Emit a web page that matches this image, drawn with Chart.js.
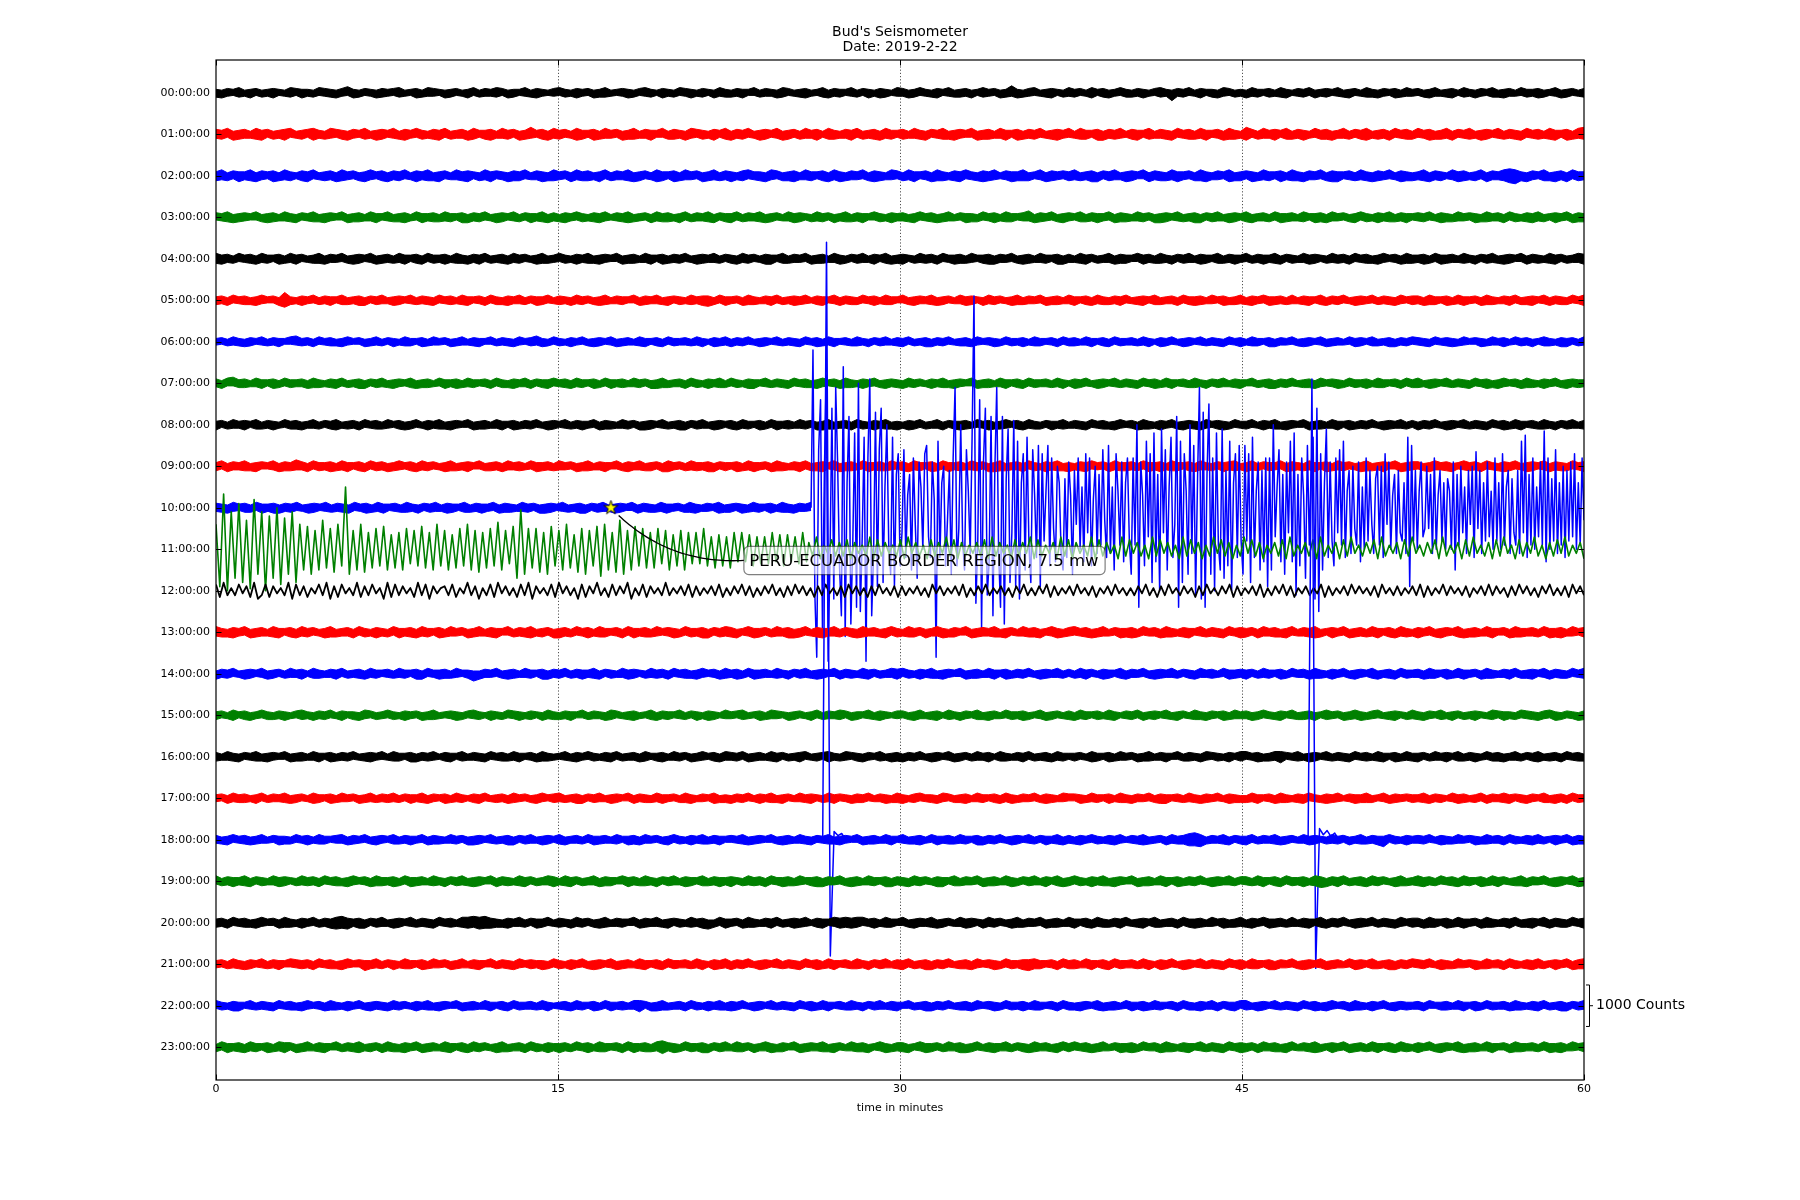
<!DOCTYPE html>
<html><head><meta charset="utf-8">
<script src="https://cdn.jsdelivr.net/npm/chart.js@4.4.1/dist/chart.umd.min.js"></script>
<style>html,body{margin:0;padding:0;background:#fff;overflow:hidden}#wrap{width:1800px;height:1200px;position:relative}</style>
</head><body><div id="wrap"><canvas id="c"></canvas></div>
<script>
// ================= DATA =================
const chartTitle = ["Bud's Seismometer", "Date: 2019-2-22"];
const xAxisTitle = "time in minutes";
const hourLabels = ["00:00:00","01:00:00","02:00:00","03:00:00","04:00:00","05:00:00","06:00:00","07:00:00",
  "08:00:00","09:00:00","10:00:00","11:00:00","12:00:00","13:00:00","14:00:00","15:00:00",
  "16:00:00","17:00:00","18:00:00","19:00:00","20:00:00","21:00:00","22:00:00","23:00:00"];
const minuteTicks = [0, 15, 30, 45, 60];
const countsPerRow = 1000;
const scaleBarCounts = 1000;
const scaleBarLabel = "1000 Counts";
const scaleBarRow = 22;
const eventLabel = "PERU-ECUADOR BORDER REGION, 7.5 mw";
const eventMinute = 17.32, eventRow = 10;
const eventLabelMinute = 23.39, eventLabelRow = 11.27;

// background noise: per 15 s window, "max then min" deviation digits (x noiseUnit counts)
const noiseUnit = [21,24,24,22,22,21,20,21,21,22,22,0,0,23,22,21,21,21,21,22,22,22,21,22];
const band00 = `45 36 54 43 65 34 46 53 35 44 56 43 34 65 53 46 44 35 63 54 45 36 54 73 46 35 53 44 36 55
44 53 65 34 43 56 35 64 54 43 36 45 53 34 46 63 35 54 44 65 53 36 45 43 64 35 56 44 33 54
63 45 34 56 44 53 36 45 65 34 43 54 46 35 53 64 45 33 56 44 35 63 54 46 34 55 43 36 64 45
35 54 46 43 63 35 54 44 36 65 53 34 45 56 34 43 65 36 54 45 43 64 35 53 46 34 56 45 33 64
54 36 45 63 44 35 56 43 64 35 45 54 36 43 65 44 53 36 45 84 46 35 54 63 34 45 56 43 35 64
45 53 34 66 43 55 36 44 63 45 35 54 46 34 53 65 44 39 54 45 63 34 56 43 45 36 64 53 35 44
36 64 45 43 55 34 65 46 33 54 45 63 36 44 55 43 64 35 46 53 34 65 45 36 54 43 56 35 64 44
53 35 46 64 34 45 56 33 65 44 36 54 43 65 35 46 54 34 63 45 44 56 35 43 64 36 45 53 34 55`;
const band01 = `54 45 63 36 45 54 34 65 46 53 35 44 56 63 34 45 53 66 44 35 64 53 45 36 54 43 65 34 46 55
43 64 35 56 44 63 45 34 55 46 63 35 44 54 36 65 43 45 56 34 64 45 53 36 45 74 43 55 36 64
45 53 34 66 45 43 56 35 64 44 53 36 45 65 34 54 46 43 63 35 55 44 36 64 53 45 34 56 43 65
36 54 45 63 34 46 55 43 64 36 45 53 35 64 44 56 33 65 45 34 54 46 63 35 44 55 36 64 45 43
55 34 64 45 36 53 44 65 35 46 54 43 63 36 45 55 34 64 46 43 56 35 54 45 63 34 45 56 44 63
34 65 45 43 56 36 54 45 64 33 55 46 43 65 34 54 45 36 63 44 55 35 64 46 43 54 36 65 45 34
76 53 35 64 44 56 43 65 35 54 46 34 63 45 55 36 44 64 35 53 45 66 34 45 54 36 63 44 55 35
63 44 56 35 45 64 36 53 44 65 34 46 55 43 64 35 54 45 36 63 44 55 34 65 46 43 56 35 64 75`;
const band02 = `45 64 35 53 46 44 65 36 54 43 56 35 64 45 33 55 46 63 34 45 54 36 65 44 53 35 46 64 43 55
36 54 45 63 34 56 44 65 35 46 53 34 64 45 56 43 35 64 46 53 44 36 55 45 63 34 54 46 35 65
44 53 36 64 45 55 34 46 63 35 54 44 65 36 45 53 34 66 45 43 56 35 64 44 53 36 45 64 35 54
46 34 55 63 44 45 36 64 53 35 45 56 34 64 45 43 55 36 64 46 35 54 44 63 35 56 45 34 64 53
35 64 46 43 54 36 65 45 34 55 46 63 44 35 56 45 64 33 54 46 45 65 35 43 64 36 55 44 53 45
64 35 44 56 36 53 45 64 34 46 55 43 63 36 54 45 35 64 46 44 53 35 65 46 34 54 43 66 35 45
53 46 35 64 45 43 56 34 65 45 36 54 44 63 35 56 46 43 54 35 64 45 36 55 44 63 34 56 45 35
44 65 36 54 45 33 64 46 55 34 45 63 36 54 44 65 77 68 45 36 54 43 65 35 46 54 36 63 45 44`;
const band03 = `53 44 65 36 45 54 43 63 35 46 55 34 64 45 36 53 44 65 35 46 54 43 63 36 45 55 34 64 46 43
64 35 45 56 34 63 46 44 55 35 64 45 43 56 36 54 45 63 34 46 55 43 64 35 53 46 44 65 36 54
35 56 44 63 45 34 55 46 64 33 54 45 66 35 44 53 36 64 45 55 34 46 63 35 54 44 65 36 53 45
46 63 35 54 44 65 36 45 53 34 64 46 55 43 35 64 45 53 36 44 65 35 54 46 43 63 45 34 56 44
54 35 46 63 44 55 36 45 64 34 53 46 45 35 63 44 56 34 65 45 43 54 74 36 55 44 63 35 46 54
43 65 35 54 46 44 63 36 55 45 34 64 45 53 36 46 55 43 64 35 44 56 36 53 45 64 34 46 55 43
65 36 44 54 35 63 46 45 54 34 65 43 46 55 36 64 44 53 35 46 63 45 34 56 44 65 35 54 46 43
54 45 63 34 56 45 35 64 44 53 46 35 65 44 54 36 63 45 34 55 46 64 35 43 56 44 63 36 55 45`;
const band04 = `65 46 54 35 63 44 55 36 64 45 43 56 35 64 46 53 34 45 65 36 54 44 63 35 46 55 43 64 36 45
54 35 64 46 43 55 36 63 45 44 56 34 65 45 36 54 46 63 35 44 55 36 64 45 53 34 46 65 35 44
63 45 34 56 44 65 35 46 54 43 63 36 45 55 34 64 46 43 56 35 54 45 63 34 46 55 44 64 35 53
45 36 64 45 53 34 56 46 43 65 35 54 44 63 36 45 55 34 64 46 35 53 45 64 34 56 43 65 36 45
56 43 35 64 45 54 36 63 44 46 55 35 64 43 45 56 36 54 44 63 35 46 55 34 64 45 43 56 36 54
34 65 46 53 35 44 64 36 55 45 43 63 46 54 35 65 44 36 53 45 64 34 56 45 43 65 35 54 46 44
63 35 54 46 44 65 36 53 45 34 64 46 55 43 35 64 45 54 36 63 44 55 35 46 64 43 54 36 65 45
44 56 35 63 46 45 54 34 65 44 36 53 45 64 35 46 55 43 63 36 54 45 34 65 46 53 35 44 64 56`;
const band05 = `45 54 36 63 44 55 35 46 64 43 53 36 98 45 34 56 44 63 35 54 46 43 65 35 44 56 36 53 45 64
34 46 55 43 64 35 54 45 36 63 44 55 34 65 46 43 54 36 63 45 35 56 44 64 35 53 46 45 63 34
55 44 36 64 45 53 35 46 65 34 54 45 43 63 36 55 44 64 35 46 53 45 34 65 44 56 57 35 63 46
44 53 36 65 45 34 54 46 63 35 44 56 45 64 33 55 46 43 64 36 54 45 35 63 44 56 34 65 45 43
63 35 46 54 44 65 36 45 53 34 64 46 55 43 36 64 45 53 34 46 65 35 54 44 63 36 45 55 34 64
46 43 55 36 64 45 35 54 46 63 34 45 56 43 65 35 44 54 36 63 45 46 55 34 64 43 56 35 45 64
35 56 44 63 46 45 54 35 64 34 55 46 43 65 36 54 45 63 34 46 55 44 63 35 54 45 36 64 43 55
54 36 65 45 43 56 35 64 46 44 53 36 65 45 34 54 46 63 35 45 56 43 64 36 54 45 35 63 44 66`;
const band06 = `44 53 35 64 45 36 55 43 64 35 54 46 43 63 74 45 54 36 63 44 55 35 46 64 43 53 36 45 64 35
53 46 34 65 45 43 56 35 64 44 53 36 45 64 34 55 46 43 63 35 54 45 36 64 43 55 74 46 35 63
45 34 56 44 63 35 46 55 43 64 36 45 54 34 65 46 43 55 36 63 45 44 54 35 64 46 33 56 45 64
36 54 45 63 34 46 55 43 64 35 54 45 36 63 44 56 35 64 46 43 54 35 65 44 36 53 45 64 34 55
46 63 35 44 56 36 54 45 63 34 45 55 36 64 43 54 46 35 63 45 44 56 34 65 45 43 54 36 63 45
55 34 64 46 43 55 36 63 45 44 54 35 64 46 33 56 45 63 34 46 55 43 64 35 54 45 36 63 44 56
34 65 45 43 56 36 54 44 63 35 46 55 43 64 36 45 54 34 63 46 55 43 65 35 44 56 36 54 45 63
54 45 36 63 44 55 46 35 64 43 53 46 35 64 44 56 34 63 45 54 36 43 65 45 34 56 46 53 35 64`;
const band07 = `54 36 63 73 45 55 34 64 46 43 56 35 63 45 44 54 36 65 45 34 55 46 63 35 44 56 36 53 45 64
35 46 54 43 65 36 45 55 34 63 46 44 56 35 64 45 43 54 36 63 45 35 56 44 64 36 53 45 46 63
44 55 36 64 45 43 56 35 63 46 44 55 34 64 45 53 36 46 65 35 44 54 36 63 45 34 56 44 65 35
63 45 34 56 46 43 64 35 54 45 36 63 44 55 35 46 64 43 54 36 65 45 34 56 44 63 35 46 54 45
36 64 45 53 34 56 44 65 35 46 54 43 63 36 45 55 34 64 46 43 55 36 63 45 44 54 35 64 46 33
56 45 63 34 46 55 43 64 35 54 45 36 63 44 56 35 64 46 43 54 35 65 44 36 53 45 64 34 55 46
43 63 35 44 56 36 54 45 63 34 45 55 36 64 43 54 46 35 63 45 44 56 34 65 45 43 54 36 63 45
65 34 46 55 43 64 35 54 45 36 63 44 56 35 46 64 43 54 36 65 45 34 56 44 63 35 46 54 45 44`;
const band08 = `46 53 35 64 44 56 43 65 35 54 46 34 63 45 55 36 44 64 35 53 45 66 34 45 54 36 63 44 55 35
64 43 55 36 45 63 34 56 44 65 35 46 54 43 63 36 45 55 34 64 46 43 56 35 54 45 63 34 46 55
43 64 35 54 46 44 63 36 55 45 34 64 45 53 36 46 55 43 64 35 44 56 36 53 45 64 34 46 55 43
55 36 64 45 43 56 35 63 46 44 55 34 64 45 53 36 46 65 35 44 54 36 63 45 34 56 44 65 35 46
34 56 45 63 35 44 64 36 53 45 46 55 34 63 44 56 35 45 64 43 55 36 64 45 35 53 46 44 65 34
54 45 36 63 44 55 35 46 64 43 54 36 65 45 34 56 44 63 35 46 54 45 36 64 43 55 46 35 63 44
45 63 34 56 44 65 35 46 54 43 63 36 45 55 34 64 46 43 56 35 54 45 63 34 46 55 44 64 35 53
36 54 45 63 34 46 55 43 64 35 54 45 36 63 44 56 35 64 46 43 54 35 65 44 36 53 45 64 34 55`;
const band09 = `45 63 36 54 44 65 35 46 53 43 64 36 55 45 74 54 36 63 45 44 56 35 64 46 43 55 36 63 45 54
36 45 64 43 55 36 64 45 53 34 46 65 35 44 56 43 63 35 45 54 36 64 44 55 34 63 46 45 54 35
64 44 53 36 45 65 34 54 46 43 63 35 56 44 64 35 45 53 36 66 44 53 35 64 45 44 56 36 53 45
43 56 35 64 46 44 53 36 65 45 34 54 46 63 35 45 56 43 64 36 45 55 34 63 46 44 55 35 64 43
55 36 64 45 43 56 35 63 46 44 55 34 64 45 53 36 46 65 35 44 54 36 63 45 34 56 44 65 35 46
34 55 46 63 44 53 36 64 45 45 54 35 63 46 44 56 34 65 45 43 55 36 64 44 35 53 46 54 65 34
46 64 35 53 45 44 63 36 55 44 35 64 46 43 56 35 64 45 53 34 46 65 35 44 56 43 63 36 45 54
53 35 46 64 44 55 36 43 64 45 54 36 63 44 35 56 45 63 34 46 55 43 64 36 54 45 35 63 44 56`;
const band10 = `54 45 36 64 43 55 35 63 46 44 56 36 54 45 63 34 46 55 43 64 35 54 45 36 63 44 56 35 64 46
43 54 35 65 44 36 53 45 64 34 56 45 43 65 35 54 46 44 63 36 55 45 34 64 45 53 36 46 55 43
64 35 44 56 36 53 45 64 34 46 55 43 63 36 54 45 35 64 46 44 53 35 65 46 34 54 43 66 35 45
53 46 35 64 45 43 56 34 65 45 36 54 44 63`;
const band13 = `64 45 35 56 44 63 36 45 54 34 65 46 43 55 36 64 45 53 34 46 65 35 44 54 36 63 45 34 56 44
35 63 46 44 55 36 64 45 43 56 35 64 44 53 36 45 64 34 55 46 43 63 35 54 45 66 34 45 53 36
46 54 35 63 44 56 34 65 45 43 54 36 63 46 44 55 35 64 43 54 46 35 63 45 44 56 36 53 45 64
55 36 43 64 46 45 53 35 64 44 56 36 45 63 34 55 46 44 64 35 53 45 36 65 44 54 35 46 63 45
34 65 45 53 36 44 64 46 35 55 43 63 36 45 54 44 65 35 46 53 34 64 45 55 36 43 64 46 35 54
63 44 55 36 45 64 34 53 46 45 56 35 63 44 54 36 65 45 34 55 46 43 64 35 54 45 36 63 44 56
45 53 36 64 44 55 35 46 63 34 54 45 66 35 43 56 44 63 36 45 54 35 64 46 43 55 36 64 45 34
56 44 63 35 46 54 43 65 36 45 55 34 64 46 43 53 36 65 45 44 54 35 63 46 45 56 34 64 43 55`;
const band14 = `36 54 45 63 34 46 55 43 64 36 45 53 35 64 44 56 33 65 45 34 54 46 63 35 44 55 36 64 45 43
54 35 64 45 43 56 36 63 44 46 55 35 64 43 45 38 36 54 44 63 35 46 55 34 64 45 43 56 36 54
45 63 35 54 46 44 65 36 53 45 34 64 46 55 43 35 64 45 54 36 63 44 55 35 46 64 43 54 36 65
44 56 35 63 46 45 54 34 65 44 36 53 45 64 35 46 55 43 63 36 54 45 34 65 46 53 35 44 64 56
63 45 34 56 44 65 35 46 54 43 63 36 45 55 34 64 46 43 56 35 54 45 63 34 46 55 44 64 35 53
35 64 46 53 34 56 45 43 65 36 54 44 63 35 46 55 44 64 35 53 45 36 64 44 55 34 63 46 45 54
46 53 35 64 45 43 56 35 63 44 54 36 65 45 34 56 44 63 35 46 54 43 65 36 44 55 36 63 45 44
54 36 65 45 43 56 35 64 46 44 53 36 65 45 34 54 46 63 35 45 56 43 64 36 54 45 35 63 44 65`;
const band15 = `45 53 34 66 43 55 36 44 63 45 35 54 46 34 53 65 44 36 54 45 63 34 56 43 45 36 64 53 35 44
63 45 34 56 44 53 36 45 65 34 43 54 46 35 53 64 45 33 56 44 35 63 54 46 34 55 43 36 64 45
35 54 46 43 63 35 54 44 36 65 53 34 45 56 34 43 65 36 54 45 43 64 35 53 46 34 56 45 33 64
44 53 65 34 43 56 35 64 54 43 36 45 53 34 46 63 35 54 44 65 53 36 45 43 64 35 56 44 33 54
53 35 46 64 34 45 56 33 65 44 36 54 43 65 35 46 54 34 63 45 44 56 35 43 64 36 45 53 34 55
36 64 45 43 55 34 65 46 33 54 45 63 36 44 55 43 64 35 46 53 34 65 45 36 54 43 56 35 64 44
54 36 45 63 44 35 56 43 64 35 45 54 36 43 65 44 53 36 45 64 46 35 54 63 34 45 56 43 35 64
45 36 54 43 65 34 46 53 35 44 56 43 34 65 53 46 44 35 63 54 45 36 54 63 46 35 53 44 36 55`;
const band16 = `55 34 64 45 36 53 44 65 35 46 54 43 63 36 45 55 34 64 46 43 56 35 54 45 63 34 45 56 44 63
34 65 45 43 56 36 54 45 64 33 55 46 43 65 34 54 45 36 63 44 55 35 64 46 43 54 36 65 45 34
43 64 35 56 44 63 45 34 55 46 63 35 44 54 36 65 43 45 56 34 64 45 53 36 45 64 43 55 36 64
54 45 63 36 45 54 34 65 46 53 35 44 56 63 34 45 53 66 44 35 64 53 45 36 54 43 65 34 46 55
36 54 45 63 34 46 55 43 64 36 45 53 35 64 44 56 33 65 45 34 54 46 63 35 44 55 36 64 45 43
45 53 34 66 45 43 56 35 64 44 53 36 45 65 34 54 46 43 63 35 55 44 36 64 53 45 34 56 43 65
63 44 56 35 45 64 67 53 44 65 34 46 55 43 64 35 54 45 36 63 44 55 34 65 46 43 56 35 64 45
46 53 35 64 44 56 43 65 35 54 46 34 63 45 55 36 44 64 35 53 45 66 34 45 54 36 63 44 55 35`;
const band17 = `44 53 36 64 45 55 34 46 63 35 54 44 65 36 45 53 34 66 45 43 56 35 64 44 53 36 45 64 35 54
45 64 35 53 46 44 65 36 54 43 56 35 64 45 33 55 46 63 34 45 54 36 65 44 53 35 46 64 43 55
64 35 44 56 36 53 45 64 34 46 55 43 63 36 54 45 35 64 46 44 53 35 65 46 34 54 43 66 35 45
36 54 45 63 34 56 44 65 35 46 53 34 64 45 56 43 35 64 46 53 44 36 55 45 63 34 54 46 35 65
46 34 55 63 44 45 36 64 53 35 45 56 34 64 45 43 55 36 64 46 35 54 44 63 35 56 45 34 64 53
53 46 35 64 45 43 56 34 65 45 36 54 44 63 35 56 46 43 54 35 64 45 36 55 44 63 34 56 45 35
35 64 46 43 54 36 65 45 34 55 46 63 44 35 56 45 64 33 54 46 45 65 35 43 64 36 55 44 53 45
44 65 36 54 45 33 64 46 55 34 45 63 36 54 44 65 46 53 45 36 54 43 65 35 46 54 36 63 45 44`;
const band18 = `54 35 46 63 44 55 36 45 64 34 53 46 45 35 63 44 56 34 65 45 43 54 64 36 55 44 63 35 46 54
43 65 35 54 46 44 63 36 55 45 34 64 45 53 36 46 55 43 64 35 44 56 36 53 45 64 34 46 55 43
65 36 44 54 35 63 46 45 54 34 65 43 46 55 36 64 44 53 35 46 63 45 34 56 44 65 35 54 46 43
53 44 65 36 45 54 43 63 35 46 55 34 64 45 36 53 44 65 35 46 54 43 63 36 45 55 34 64 46 43
64 35 45 56 34 63 46 44 55 35 64 45 43 56 36 54 45 63 34 46 55 43 64 35 53 46 44 65 36 54
35 56 44 63 45 34 55 46 64 33 54 45 66 35 44 53 36 64 45 55 77 87 68 35 54 44 65 36 53 45
46 63 35 54 44 65 36 45 53 34 64 46 55 43 35 64 45 53 36 44 65 35 54 46 48 63 45 34 56 44
54 45 63 34 56 45 35 64 44 53 46 35 65 44 54 36 63 45 34 55 46 64 35 43 56 44 63 36 55 45`;
const band19 = `63 35 54 46 44 65 36 53 45 34 64 46 55 43 35 64 45 54 36 63 44 55 35 46 64 43 54 36 65 45
44 56 35 63 46 45 54 34 65 44 36 53 45 64 35 46 55 43 63 36 54 45 34 65 46 53 35 44 64 56
34 65 46 53 35 44 64 36 55 45 43 63 46 54 35 65 44 36 53 45 64 34 56 45 43 65 35 54 46 44
56 43 35 64 45 54 36 63 44 46 55 35 64 43 45 56 36 54 44 63 35 46 55 34 64 45 43 56 36 54
45 36 64 45 53 34 56 46 43 65 35 54 44 63 36 45 55 34 64 46 35 53 45 64 34 56 43 65 36 45
63 45 34 56 44 65 35 46 54 43 63 36 45 55 34 64 46 43 56 35 54 45 63 34 46 55 44 64 35 53
54 35 64 46 43 55 36 63 45 44 56 34 65 57 36 54 46 63 35 44 55 36 64 45 53 34 46 65 35 44
65 46 54 35 63 44 55 36 64 45 43 56 35 64 46 53 34 45 65 36 54 44 63 35 46 55 43 64 36 45`;
const band20 = `45 54 36 63 44 55 35 46 64 43 53 36 65 45 34 56 44 63 35 54 46 67 76 57 44 56 36 53 45 64
34 46 55 43 64 35 54 45 36 63 44 55 34 65 66 75 67 76 56 45 35 56 44 64 35 53 46 45 63 34
55 44 36 64 45 53 35 46 65 34 54 45 43 63 36 55 44 64 35 46 53 45 34 65 44 56 37 35 63 46
44 53 36 65 45 34 54 46 63 35 44 56 45 64 33 55 46 43 64 56 65 56 65 63 44 56 34 65 45 43
63 35 46 54 44 65 36 45 53 34 64 46 55 43 36 64 45 53 34 46 65 35 54 44 63 36 45 55 34 64
46 43 55 36 64 45 35 54 46 63 34 45 56 43 65 35 44 54 36 63 45 46 55 34 64 43 56 35 45 64
35 56 44 63 46 45 54 35 64 34 55 46 43 65 36 54 45 63 34 46 55 44 63 35 54 45 36 64 43 55
54 36 65 45 43 56 35 64 46 44 53 36 65 45 34 54 46 63 35 45 56 43 64 36 54 45 35 63 44 56`;
const band21 = `44 53 35 64 45 36 55 43 64 35 54 46 43 63 54 45 54 36 63 44 55 35 46 64 43 53 47 45 64 35
53 46 34 65 45 43 56 35 64 44 53 36 45 64 34 55 46 43 63 35 54 45 36 64 43 55 44 46 35 63
45 34 56 44 63 35 46 55 43 64 36 45 54 34 65 46 43 55 36 63 45 44 54 35 64 46 33 56 45 64
36 54 45 63 34 46 55 43 64 35 54 45 36 63 44 56 35 64 46 43 54 35 65 44 36 53 45 64 34 55
46 63 35 44 56 36 54 45 63 34 45 55 36 64 43 54 46 35 63 45 44 56 57 65 45 43 54 36 63 45
55 34 64 46 43 55 36 63 45 44 54 35 64 46 33 56 45 63 34 46 55 43 64 35 54 45 36 63 44 56
34 65 45 43 56 36 54 44 63 35 46 55 43 64 36 45 54 34 63 46 55 43 65 35 44 56 36 54 45 63
54 45 63 34 56 45 35 64 44 53 46 35 65 44 54 36 63 45 34 55 46 64 35 43 56 44 63 36 55 65`;
const band22 = `63 45 34 56 46 43 64 35 54 45 36 63 44 55 35 46 64 43 54 36 65 45 34 56 44 63 35 46 54 45
36 64 45 53 34 56 44 65 35 46 54 43 63 36 45 55 34 64 46 43 55 36 63 45 44 54 35 64 46 33
44 55 36 64 45 43 56 35 63 46 44 55 34 64 67 53 36 46 65 35 44 54 36 63 45 34 56 44 65 35
56 45 63 34 46 55 43 64 35 54 45 36 63 44 56 35 64 46 43 54 35 65 44 36 53 45 64 34 55 46
43 63 35 44 56 36 54 45 63 34 45 55 36 64 43 54 46 35 63 45 44 56 34 65 45 43 54 36 63 45
35 46 54 43 65 36 45 55 34 63 46 44 56 35 64 45 43 54 36 63 45 35 56 44 64 36 53 45 46 63
65 34 46 55 43 64 35 54 45 36 63 44 56 35 46 64 43 54 36 65 45 34 56 44 63 35 46 54 45 44
54 36 63 43 45 55 34 64 46 43 56 35 63 45 44 54 36 65 45 34 55 46 63 35 44 56 36 53 45 64`;
const band23 = `35 63 46 44 55 36 64 45 43 56 35 64 56 53 36 45 64 34 55 46 43 63 35 54 45 66 34 45 53 36
64 45 35 56 44 63 36 45 54 34 65 46 43 55 36 64 45 53 34 46 65 35 44 54 36 63 45 34 56 44
46 54 35 63 44 56 34 65 45 43 54 36 63 46 44 55 35 64 77 54 46 35 63 45 44 56 36 53 45 64
34 65 45 53 36 44 64 46 35 55 43 63 36 45 54 44 65 35 46 53 34 64 45 55 36 43 64 46 35 54
55 36 43 64 46 45 53 35 64 44 56 36 45 63 34 55 46 44 64 35 53 45 36 65 44 54 35 46 63 45
63 44 55 36 45 64 34 53 46 45 56 35 63 44 54 36 65 45 34 55 46 43 64 35 54 45 36 63 44 56
45 53 36 64 44 55 35 46 63 34 54 45 66 35 43 56 44 63 36 45 54 35 64 46 43 55 36 64 45 34
56 44 63 35 46 54 43 65 36 45 55 34 64 46 43 53 36 65 45 44 54 35 63 46 45 56 34 64 43 55`;
const band10Span = [0, 26.1];

// 10:00 hour, earthquake arrival (thousands of counts, ~5 s steps from 26.1 to 60 min)
const quake10Span = [26.1, 60];
const quake10 = [0,
 3.8,-2.1,-3.6,1.4,2.6,-2.9,0.8,3.2,-3.7,-1.2,2.4,-2.2,
 2.9,1.1,-1.4,-2.6,3.4,-3.1,0.6,2.2,-2.8,-0.9,1.8,-2.4,
 3.0,-2.5,-0.7,1.7,-3.7,1.2,3.1,-2.6,-1.1,2.3,-1.9,1.4,
 2.4,-1.8,0.5,2.0,-0.9,-1.6,1.7,-1.9,0.8,1.3,-1.4,-0.6,
 1.4,-1.2,0.3,0.8,-1.5,1.2,-0.4,-1.7,1.1,0.5,-1.0,1.3,
 1.5,-0.7,-1.2,1.1,0.2,-3.6,1.6,-1.2,0.6,1.0,-1.4,-0.3,
 0.9,-1.6,1.2,2.9,-1.4,-0.5,2.0,-0.8,-1.5,1.4,0.4,-1.1,
 1.7,5.1,-2.3,-0.8,2.6,-2.9,1.1,2.4,-2.1,-1.3,2.2,-2.6,
 0.9,2.9,-1.1,-2.4,2.2,-2.8,0.7,1.9,-1.8,-0.6,2.1,-1.9,
 1.6,-2.2,0.6,1.3,-1.5,1.7,-0.9,-1.8,1.4,0.3,-1.2,1.5,
 -1.9,1.3,-0.8,0.4,1.5,-1.4,1.2,-0.5,-1.3,1.0,0.6,-1.1,
 -1.5,0.7,-1.2,1.1,0.3,-1.6,0.9,-0.4,1.2,-1.0,0.5,-1.3,
 1.3,-0.6,1.2,-1.4,0.2,1.0,-1.1,0.8,-0.9,1.4,-0.3,-1.2,
 1.5,-1.1,0.5,-1.5,1.3,0.4,-0.9,1.1,-1.3,0.6,1.2,-0.8,
 -1.6,1.2,-0.9,2.0,-2.4,1.1,0.3,-1.4,1.6,-0.7,1.3,-1.8,
 1.8,-1.3,0.8,-2.0,1.9,-0.6,1.4,-1.5,0.5,1.7,-1.2,-0.4,
 2.2,-2.4,1.6,-1.8,1.3,0.4,-1.6,2.0,-1.1,1.5,-2.1,0.7,
 2.9,-2.2,2.3,-2.4,0.8,2.5,-1.6,1.2,-2.0,1.8,-0.9,-1.5,
 1.9,-1.7,0.9,-1.4,1.6,-2.0,0.6,1.3,-1.2,1.5,-0.8,-1.6,
 1.5,-0.8,1.3,-1.8,1.7,-1.2,0.4,1.1,-1.5,0.9,-1.3,1.2,
 -1.9,1.2,-1.5,2.0,-0.7,0.5,1.4,-1.3,0.8,-1.6,1.1,-0.6,
 1.6,-1.3,1.8,-2.1,0.8,-1.4,1.2,0.3,-1.7,1.5,-0.9,1.0,
 1.7,-2.2,2.4,-2.5,1.3,-1.5,0.6,1.9,-1.2,1.1,-0.8,-1.4,
 1.2,-0.6,1.4,-0.9,1.6,-1.2,0.4,0.9,-1.1,1.0,-0.5,-0.9,
 1.1,-1.3,0.5,-1.0,1.2,-0.8,0.9,-0.4,-1.1,0.7,1.0,-0.9,
 1.0,-1.2,1.3,-0.4,1.1,-1.0,0.3,0.8,-1.1,0.9,-0.6,-0.8,
 0.6,-1.1,1.7,-1.9,1.5,-0.8,0.9,-1.0,0.4,1.1,-0.7,-0.5,
 1.0,-0.5,0.8,-1.1,1.2,-1.0,0.3,0.9,-0.8,0.6,-1.0,0.7,
 0.4,-1.0,1.1,-1.5,0.8,-0.9,1.0,-0.6,0.5,-1.1,0.9,-0.4,
 1.0,-1.2,1.35,-0.5,0.9,-1.1,0.6,-0.8,1.1,-0.7,0.4,-1.0,
 1.2,-0.8,0.6,-1.0,1.3,-0.9,0.5,0.9,-1.1,0.7,-0.6,-0.9,
 0.9,-1.1,1.6,-0.6,1.75,-1.2,0.8,-0.9,1.2,-1.0,0.5,-0.7,
 1.1,-0.9,1.85,-1.3,1.2,-1.0,0.7,-0.8,1.4,-1.1,0.6,-0.9,
 1.0,-1.2,0.9,-0.8,1.1,-0.7,1.3,-1.0,0.6,-0.9,1.2,-0.3];

// 11:00 hour, surface-wave coda (thousands of counts, 0 to 25.9 min)
const coda11Span = [0, 25.9];
const coda11 = [0.6,-0.9,1.33,-1.0,0.9,-0.7, 1.1,-0.8,0.7,-0.95,1.2,-0.6, 0.9,-1.0,0.8,-0.7,1.0,-0.85,
 0.75,-0.6,0.9,-0.8,0.6,-0.5, 0.55,-0.6,0.45,-0.5,0.7,-0.45, 0.5,-0.55,0.6,-0.4,1.5,-0.6,
 0.45,-0.5,0.6,-0.55,0.4,-0.45, 0.5,-0.4,0.55,-0.5,0.35,-0.45, 0.4,-0.5,0.5,-0.35,0.45,-0.4,
 0.55,-0.45,0.4,-0.5,0.6,-0.4, 0.45,-0.5,0.35,-0.45,0.5,-0.4, 0.6,-0.5,0.45,-0.55,0.4,-0.45,
 0.5,-0.4,0.65,-0.5,0.45,-0.35, 0.55,-0.7,0.95,-0.6,0.5,-0.45, 0.5,-0.55,0.4,-0.6,0.55,-0.4,
 0.45,-0.5,0.6,-0.45,0.35,-0.55, 0.5,-0.6,0.45,-0.4,0.55,-0.65, 0.6,-0.5,0.4,-0.55,0.7,-0.6,
 0.45,-0.5,0.55,-0.4,0.5,-0.45, 0.4,-0.45,0.5,-0.35,0.45,-0.5, 0.35,-0.4,0.45,-0.5,0.4,-0.35,
 0.4,-0.35,0.5,-0.4,0.3,-0.45, 0.35,-0.4,0.3,-0.45,0.4,-0.3, 0.4,-0.3,0.35,-0.4,0.3,-0.35,
 0.3,-0.35,0.4,-0.3,0.35,-0.4, 0.35,-0.3,0.3,-0.35,0.4,-0.3];
// 11:00 hour, 26 to 60 min: digits, (d - 4.5) x gain counts
const wave11Span = [26, 60];
const wave11Gain = 65;
const wave11 = `729163827281736291827362819372618273928172637281927361827391
826371928173629182736192837261928372619283716293827162938271
637281926372819263718293627381926371829362738192637182936271
829361827392617283926371`;
// 12:00 hour: digits, (d - 4.5) x gain counts
const wave12Gain = 43;
const wave12 = `819262837190281736290827163829071836291728360918273619280736
728163927062819372618290736281937260817392618273906281736292
637281726372816273827162738261728372617283627183726172836271
726372618372637281627382637261738262738172637283627163728362
627382617283627361728362738172637281627382716372638172637283
736271836272637281726382736271637282736172837261738262718372`;
// 18:00 hour instrument glitches (thousands of counts, 10 s steps)
const glitchStepMinutes = 1 / 6;
const glitch18aStart = 26.61;
const glitch18a = [0, 14.4, -2.8, 0.2, 0.1, 0.15, 0];
const glitch18bStart = 47.9;
const glitch18b = [0, 11.1, -3.1, 0.27, 0.12, 0.22, 0.08, 0.16, 0.02, 0.1, 0];

const bandStrings = [band00, band01, band02, band03, band04, band05, band06, band07, band08, band09,
  band10, null, null, band13, band14, band15, band16, band17, band18, band19, band20, band21, band22, band23];

// ================= BUILD =================
const colorCycle = ['#000000', '#ff0000', '#0000ff', '#008000'];
const clean = s => s.replace(/\s+/g, '');
const base = r => -r * countsPerRow;

// each 15 s window gives (max, min) -> upper and lower edge of the noise band
function bandPoints(str, r, span) {
  const d = clean(str), n = d.length, top = [], bot = [];
  for (let k = 0; k + 1 < n; k += 2) {
    const x = span[0] + (span[1] - span[0]) * k / (n - 2);
    top.push({x, y: base(r) + Number(d[k]) * noiseUnit[r]});
    bot.push({x, y: base(r) - Number(d[k + 1]) * noiseUnit[r]});
  }
  return {top, bot};
}
function digitLine(str, r, span, gain) {
  const d = clean(str), n = d.length, out = [];
  for (let i = 0; i < n; i++) out.push({x: span[0] + (span[1] - span[0]) * i / (n - 1), y: base(r) + (Number(d[i]) - 4.5) * gain});
  return out;
}
function valueLine(vals, r, span) {
  const n = vals.length;
  return vals.map((v, i) => ({x: span[0] + (span[1] - span[0]) * i / (n - 1), y: base(r) + v * countsPerRow}));
}
function stepLine(vals, r, start, step) {
  return vals.map((v, i) => ({x: start + i * step, y: base(r) + v * countsPerRow}));
}

const datasets = [];
function addLine(points, r, w) {
  datasets.push({data: points, borderColor: colorCycle[r % 4], borderWidth: w, pointRadius: 0,
    fill: false, order: 100 - r, borderJoinStyle: 'round', tension: 0});
}
function addBand(b, r) {
  const c = colorCycle[r % 4];
  datasets.push({data: b.top, borderColor: c, borderWidth: 1, pointRadius: 0, fill: false, order: 100 - r, tension: 0});
  datasets.push({data: b.bot, borderColor: c, backgroundColor: c, borderWidth: 1, pointRadius: 0, fill: '-1', order: 100 - r, tension: 0});
}

for (let r = 0; r < 24; r++) {
  if (r === 10) {
    addBand(bandPoints(band10, 10, band10Span), 10);
    addLine(valueLine(quake10, 10, quake10Span), 10, 1.5);
  } else if (r === 11) {
    addLine(valueLine(coda11, 11, coda11Span).concat(digitLine(wave11, 11, wave11Span, wave11Gain)), 11, 1.6);
  } else if (r === 12) {
    addLine(digitLine(wave12, 12, [0, 60], wave12Gain), 12, 1.8);
  } else {
    addBand(bandPoints(bandStrings[r], r, [0, 60]), r);
  }
  if (r === 18) {
    addLine(stepLine(glitch18a, 18, glitch18aStart, glitchStepMinutes), 18, 1.5);
    addLine(stepLine(glitch18b, 18, glitch18bStart, glitchStepMinutes), 18, 1.5);
  }
}

function makeStar(R) {
  const s = Math.ceil(2 * R + 4), c = document.createElement('canvas');
  c.width = s; c.height = s;
  const g = c.getContext('2d');
  g.beginPath();
  for (let k = 0; k < 10; k++) {
    const rr = k % 2 ? R * 0.382 : R, a = -Math.PI / 2 + k * Math.PI / 5;
    g.lineTo(s / 2 + rr * Math.cos(a), s / 2 + rr * Math.sin(a));
  }
  g.closePath();
  g.fillStyle = '#ffff00'; g.fill();
  g.lineWidth = 0.9; g.strokeStyle = '#000'; g.stroke();
  return c;
}
datasets.push({data: [{x: eventMinute, y: base(eventRow)}], pointStyle: makeStar(7.4), pointRadius: 8,
  showLine: false, order: -1, borderColor: '#000', backgroundColor: '#ff0'});

const overlay = {
  id: 'overlay',
  beforeDatasetsDraw(chart) {
    const {ctx, chartArea: a, scales: {x}} = chart;
    ctx.save();
    ctx.strokeStyle = 'rgba(0,0,0,0.85)'; ctx.lineWidth = 0.8; ctx.setLineDash([1.2, 2]);
    minuteTicks.forEach(m => {
      if (m <= minuteTicks[0] || m >= minuteTicks[minuteTicks.length - 1]) return;
      const px = Math.round(x.getPixelForValue(m)) + 0.5;
      ctx.beginPath(); ctx.moveTo(px, a.top); ctx.lineTo(px, a.bottom); ctx.stroke();
    });
    ctx.restore();
  },
  afterDatasetsDraw(chart) {
    const {ctx, chartArea: a, scales: {x, y}} = chart;
    ctx.save();
    // annotation arrow + box
    const sx = x.getPixelForValue(eventMinute), sy = y.getPixelForValue(base(eventRow));
    ctx.font = '16.5px "DejaVu Sans"';
    const tw = ctx.measureText(eventLabel).width;
    const lx = x.getPixelForValue(eventLabelMinute), lcy = y.getPixelForValue(-eventLabelRow * countsPerRow);
    const bx = lx - 5.4, by = lcy - 14.1, bw = tw + 11.9, bh = 28.2;
    const ex = bx, ey = lcy, mx = (sx + ex) / 2, my = (sy + ey) / 2, rad = 0.23;
    const cx = mx - rad * (ey - sy), cy = my + rad * (ex - sx);
    ctx.beginPath();
    for (let i = 0; i <= 40; i++) {
      const t = 0.07 + 0.93 * i / 40, u = 1 - t;
      const px = u * u * sx + 2 * u * t * cx + t * t * ex, py = u * u * sy + 2 * u * t * cy + t * t * ey;
      i ? ctx.lineTo(px, py) : ctx.moveTo(px, py);
    }
    ctx.strokeStyle = '#000'; ctx.lineWidth = 1.3; ctx.stroke();
    ctx.beginPath(); ctx.roundRect(bx, by, bw, bh, 5);
    ctx.fillStyle = 'rgba(255,255,255,0.6)'; ctx.fill();
    ctx.strokeStyle = 'rgba(0,0,0,0.5)'; ctx.lineWidth = 1.2; ctx.stroke();
    ctx.fillStyle = '#000'; ctx.textAlign = 'left'; ctx.textBaseline = 'alphabetic';
    ctx.fillText(eventLabel, lx, lcy + 5.4);
    // frame
    ctx.strokeStyle = '#000'; ctx.lineWidth = 1.2;
    ctx.strokeRect(a.left, a.top, a.right - a.left, a.bottom - a.top);
    // inward ticks
    ctx.lineWidth = 1;
    hourLabels.forEach((_, r) => {
      const py = Math.round(y.getPixelForValue(base(r))) + 0.5;
      ctx.beginPath(); ctx.moveTo(a.left, py); ctx.lineTo(a.left + 5.5, py);
      ctx.moveTo(a.right, py); ctx.lineTo(a.right - 5.5, py); ctx.stroke();
    });
    minuteTicks.forEach(m => {
      const px = Math.round(x.getPixelForValue(m)) + 0.5;
      ctx.beginPath(); ctx.moveTo(px, a.bottom); ctx.lineTo(px, a.bottom - 5.5);
      ctx.moveTo(px, a.top); ctx.lineTo(px, a.top + 5.5); ctx.stroke();
    });
    // scale bar
    const yc = y.getPixelForValue(base(scaleBarRow));
    const half = (y.getPixelForValue(0) - y.getPixelForValue(scaleBarCounts)) / 2;
    const b0 = a.right + 5.5;
    ctx.beginPath();
    ctx.moveTo(b0 - 3.5, yc - half); ctx.lineTo(b0, yc - half); ctx.lineTo(b0, yc + half); ctx.lineTo(b0 - 3.5, yc + half);
    ctx.moveTo(b0, yc); ctx.lineTo(b0 + 3.5, yc); ctx.stroke();
    ctx.font = '14px "DejaVu Sans"';
    ctx.fillText(scaleBarLabel, b0 + 6.5, yc + 3.5);
    // titles
    ctx.textAlign = 'center';
    const cxm = (a.left + a.right) / 2;
    ctx.fillText(chartTitle[0], cxm, 36.3);
    ctx.fillText(chartTitle[1], cxm, 50.5);
    ctx.font = '11px "DejaVu Sans"';
    ctx.fillText(xAxisTitle, cxm, 1111);
    ctx.restore();
  }
};

Chart.defaults.font.family = 'DejaVu Sans';
Chart.defaults.font.size = 11;
Chart.defaults.color = '#000';

new Chart(document.getElementById('c'), {
  type: 'line',
  data: {datasets},
  plugins: [overlay],
  options: {
    responsive: true, maintainAspectRatio: false, animation: false, events: [],
    layout: {padding: {top: 60, right: 216, bottom: 0, left: 0}},
    plugins: {legend: {display: false}, tooltip: {enabled: false}, title: {display: false}},
    scales: {
      x: {type: 'linear', min: 0, max: 60,
        afterFit: s => { s.height = 120; },
        afterBuildTicks: s => { s.ticks = minuteTicks.map(v => ({value: v})); },
        ticks: {padding: 3, maxRotation: 0, autoSkip: false, callback: v => String(v)},
        grid: {display: false, drawTicks: false}, border: {display: false}},
      y: {type: 'linear', min: -23790, max: 790,
        afterFit: s => { s.width = 216; },
        afterBuildTicks: s => { s.ticks = hourLabels.map((_, r) => ({value: base(r)})); },
        ticks: {padding: 6, autoSkip: false, callback: v => hourLabels[Math.round(-v / countsPerRow)]},
        grid: {display: false, drawTicks: false}, border: {display: false}}
    }
  }
});
</script></body></html>
